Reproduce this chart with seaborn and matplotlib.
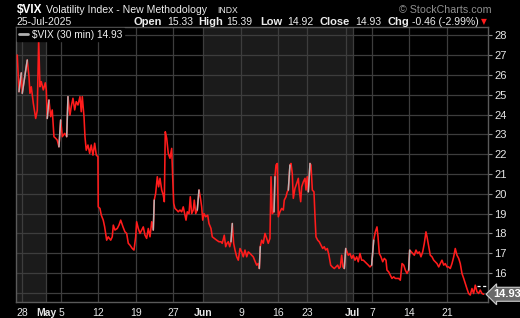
import matplotlib
matplotlib.use("Agg")
import matplotlib.pyplot as plt
import matplotlib.transforms as mtransforms
from matplotlib.lines import Line2D
import numpy as np
import pandas as pd
import seaborn as sns

# ---------------- data ----------------
# time in trading days since Mon 28-Apr-2025 open
t = [-0.63, -0.40, -0.09, 0.04, 0.71, 0.94, 1.07, 1.25, 1.52, 1.84, 2.05, 2.24, 2.41, 2.59, 2.86,
     3.13, 3.26, 3.39, 3.62, 3.85, 4.06, 4.29, 4.52, 4.73, 4.96, 5.19, 5.41, 5.73, 6.00, 6.17,
     6.44, 6.61, 6.84, 7.07, 7.28, 7.51, 7.78, 7.95, 8.09, 8.32, 8.45, 8.62, 8.85, 9.08, 9.29,
     9.52, 9.75, 9.97, 10.19, 10.23, 10.46, 10.64, 10.90, 11.09, 11.36, 11.57, 11.90, 12.11, 12.25,
     12.47, 12.78, 13.01, 13.24, 13.55, 13.81, 14.04, 14.26, 14.48, 14.79, 15.02, 15.25, 15.38,
     15.60, 15.83, 16.05, 16.27, 16.50, 16.72, 16.94, 17.17, 17.40, 17.61, 17.74, 17.93, 18.15,
     18.33, 18.51, 18.74, 18.95, 19.09, 19.22, 19.41, 19.62, 19.85, 20.08, 20.21, 20.35, 20.52,
     20.75, 20.96, 21.19, 21.42, 21.63, 21.86, 22.00, 22.17, 22.40, 22.57, 22.76, 22.97, 23.11,
     23.30, 23.51, 23.74, 23.91, 24.10, 24.24, 24.41, 24.64, 24.91, 25.08, 25.35, 25.52, 25.79,
     26.11, 26.42, 26.69, 26.86, 27.13, 27.32, 27.49, 27.67, 27.86, 28.03, 28.21, 28.39, 28.57,
     28.80, 29.01, 29.24, 29.47, 29.68, 29.91, 30.14, 30.35, 30.58, 30.81, 31.02, 31.25, 31.48,
     31.69, 31.83, 31.96, 32.15, 32.36, 32.59, 32.82, 33.03, 33.26, 33.40, 33.57, 33.80, 33.93,
     34.07, 34.24, 34.38, 34.60, 34.83, 35.05, 35.18, 35.41, 35.58, 35.72, 35.94, 36.08, 36.25,
     36.39, 36.61, 36.84, 37.06, 37.19, 37.38, 37.51, 37.73, 37.96, 38.09, 38.26, 38.40, 38.63,
     38.76, 38.94, 39.16, 39.30, 39.43, 39.66, 39.87, 40.10, 40.33, 40.54, 40.73, 40.95, 41.17,
     41.40, 41.62, 41.89, 42.11, 42.34, 42.52, 42.69, 42.88, 43.05, 43.23, 43.42, 43.59, 43.76,
     43.99, 44.22, 44.43, 44.66, 44.89, 45.10, 45.33, 45.56, 45.78, 46.00, 46.23, 46.45, 46.67,
     46.90, 47.17, 47.39, 47.61, 47.75, 47.92, 48.15, 48.38, 48.59, 48.82, 48.95, 49.18, 49.40,
     49.62, 49.85, 50.07, 50.29, 50.52, 50.74, 50.97, 51.20, 51.41, 51.64, 51.86, 52.00, 52.21,
     52.40, 52.62, 52.84, 53.07, 53.29, 53.51, 53.74, 53.96, 54.18, 54.32, 54.55, 54.76, 54.99,
     55.22, 55.43, 55.66, 55.89, 56.10, 56.33, 56.56, 56.77, 57.00, 57.23, 57.44, 57.67, 57.90,
     58.11, 58.34, 58.57, 58.78, 59.01, 59.24, 59.45, 59.67, 59.90, 60.12, 60.35, 60.57, 60.79,
     61.02, 61.25, 61.46, 61.69, 61.92]
vix = [27.0, 25.15, 26.1, 25.07, 26.75, 25.9, 25.07, 25.4, 24.57, 23.8, 24.2, 27.8, 25.4, 25.66, 25.24,
       25.6, 25.24, 23.8, 24.73, 23.89, 24.23, 22.88, 22.8, 22.71, 22.37, 23.72, 22.88, 23.05, 22.88, 24.9,
       23.97, 24.4, 24.82, 24.23, 24.65, 24.48, 24.9, 24.14, 24.9, 23.89, 22.88, 22.2, 22.46, 22.04, 22.46,
       21.95, 22.55, 21.95, 21.87, 19.34, 19.26, 18.92, 18.67, 18.33, 17.66, 17.83, 17.66, 17.83, 18.42,
       18.17, 18.25, 18.42, 18.67, 18.33, 18.08, 18.0, 17.5, 17.41, 17.24, 17.16, 17.83, 18.59,
       18.25, 18.0, 18.17, 18.33, 17.91, 17.75, 18.25, 17.83, 18.59, 18.17, 19.68, 20.02, 20.86,
       20.35, 20.78, 20.19, 19.93, 19.6, 23.13, 22.8, 22.04, 21.79, 22.29, 20.86, 19.52, 19.26,
       19.18, 19.09, 19.18, 19.09, 19.34, 18.92, 18.67, 19.09, 19.0, 19.85, 19.0, 19.18, 19.68,
       19.0, 19.18, 20.19, 19.85, 19.34, 18.67, 19.0, 18.84, 18.92, 18.5, 18.25, 17.83, 17.75,
       17.66, 17.58, 17.58, 17.5, 17.91, 17.33, 17.5, 17.58, 17.33, 17.58, 18.5, 17.5, 17.16,
       16.82, 16.65, 17.24, 17.07, 16.82, 17.16, 16.82, 17.07, 16.99, 16.9, 16.82, 16.6, 16.4,
       16.48, 16.23, 17.33, 17.66, 17.5, 18.0, 17.75, 17.5, 17.75, 20.86, 19.0, 19.09, 20.86,
       21.45, 21.53, 18.84, 19.09, 19.26, 19.18, 19.68, 19.85, 20.1, 20.19, 21.45, 21.53, 21.03,
       19.77, 20.27, 20.52, 20.78, 20.19, 19.6, 20.35, 20.6, 20.78, 20.19, 20.86, 20.1, 21.53,
       21.45, 20.19, 20.1, 18.84, 17.83, 17.66, 17.58, 17.41, 17.24, 17.33, 17.16, 17.24, 16.9,
       16.4, 16.31, 16.23, 16.31, 16.4, 16.23, 16.31, 16.9, 16.31, 16.23, 17.24, 17.07, 16.9,
       16.99, 16.74, 16.9, 16.65, 16.82, 16.57, 16.99, 16.65, 16.65, 16.57, 16.48, 16.4, 16.31,
       16.4, 17.66, 18.08, 18.33, 17.83, 16.99, 16.82, 16.57, 16.74, 16.65, 16.15, 16.06, 15.9,
       15.73, 15.81, 15.73, 15.73, 15.73, 15.64, 16.48, 16.4, 16.15, 15.98, 16.15, 17.16, 17.07,
       16.99, 16.9, 17.16, 16.99, 17.07, 16.82, 17.07, 17.5, 18.08, 17.83, 17.33, 16.9, 16.82,
       16.65, 16.57, 16.48, 16.31, 16.48, 16.65, 16.4, 16.48, 16.31, 16.31, 16.23, 16.48, 16.82,
       17.24, 16.9, 16.74, 16.48, 15.98, 15.73, 15.48, 15.22, 14.97, 14.89, 15.22, 14.97, 15.39,
       15.06, 14.97, 15.14, 14.97, 14.93]

tick_pos = [0.0, 3.26, 5.23, 10.19, 15.29, 20.25, 24.32, 29.37, 34.38, 38.26, 43.4, 44.35, 46.94, 51.9, 57.0]
tick_labels = ["28", "May", "5", "12", "19", "27", "Jun", "9", "16", "23", "", "Jul", "7", "14", "21"]
month_labels = ["May", "Jun", "Jul"]
shaded_months = [(-0.8, 3.26), (24.32, 44.35)]   # April and June
y_ticks = list(range(15, 29))

symbol = "$VIX"
name = "Volatility Index - New Methodology"
exchange = "INDX"
date_str = "25-Jul-2025"
open_v, high_v, low_v, close_v, chg_v, chg_pct = 15.33, 15.39, 14.92, 14.93, -0.46, -2.99
last_day_start = 61.0

# ---------------- style ----------------
sns.set_style("dark", {"axes.facecolor": "black", "figure.facecolor": "black"})
plt.rcParams["font.family"] = ["Liberation Sans", "DejaVu Sans"]

W, H = 520, 318
fig = plt.figure(figsize=(W / 100, H / 100), dpi=100, facecolor="black")
ax = fig.add_axes([16 / W, 16 / H, 472 / W, 274.7 / H])
ax.set_facecolor("black")

for a, b in shaded_months:
    ax.axvspan(a, b, color="#1b1b1b", zorder=0, lw=0)

ax.set_xlim(-0.8, 62.5)
ax.set_ylim(14.54, 28.40)
ax.set_xticks(tick_pos)
ax.set_xticklabels(tick_labels)
ax.set_yticks(y_ticks)
ax.set_yticklabels(["" if v == 15 else str(v) for v in y_ticks])
ax.grid(True, color="#3d3d3d", lw=0.9, zorder=1)
ax.set_axisbelow(True)
for s in ax.spines.values():
    s.set_color("#5a5a5a")
    s.set_linewidth(1.0)
    s.set_visible(True)

ax.yaxis.tick_right()
ax.tick_params(axis="y", which="both", direction="out", length=3, width=0.8,
               color="#8a8a8a", labelsize=8, labelcolor="#e6e6e6", pad=1.5,
               left=False, right=True)
ax.tick_params(axis="x", length=0, labelsize=7.5, labelcolor="#e6e6e6", pad=4)
for lab in ax.get_xticklabels():
    if lab.get_text() in month_labels:
        lab.set_fontweight("bold")

# ---------------- price line ----------------
df = pd.DataFrame({"t": t, "vix": vix})
sns.lineplot(data=df, x="t", y="vix", color="#ff1c1c", lw=1.15, estimator=None,
             ax=ax, zorder=3, legend=False)

# larger rising legs drawn in grey (StockCharts up-colour)
rows = []
vv = np.array(vix)
for i in range(len(vv) - 1):
    if 0.9 <= vv[i + 1] - vv[i] < 3.0:
        rows.append({"seg": i, "t": t[i], "vix": vix[i]})
        rows.append({"seg": i, "t": t[i + 1], "vix": vix[i + 1]})
up = pd.DataFrame(rows)
sns.lineplot(data=up, x="t", y="vix", units="seg", estimator=None, color="#b5b5b5",
             lw=1.1, ax=ax, zorder=4, legend=False)

# today's open dashed line
ax.hlines(open_v, last_day_start, 62.5, colors="white", linestyles=(0, (2.5, 2)), lw=0.9, zorder=5)
ax.set_xlabel("")
ax.set_ylabel("")

# last value badge
trans = mtransforms.blended_transform_factory(ax.transAxes, ax.transData)
ax.text(1.012, close_v, f"{close_v:.2f}", transform=trans, ha="left", va="center",
        fontsize=8, fontweight="bold", color="white", clip_on=False, zorder=10,
        bbox=dict(boxstyle="larrow,pad=0.18", fc="#6a6a6a", ec="#cfcfcf", lw=0.8))

# legend
h = Line2D([], [], color="#b0b0b0", lw=2)
leg = ax.legend([h], [rf"\{symbol} (30 min) {close_v:.2f}"], loc="upper left",
                bbox_to_anchor=(0.0, 1.0), borderaxespad=0.1, frameon=True,
                fontsize=7.3, handlelength=0.9, handletextpad=0.4, borderpad=0.15,
                labelcolor="#f0f0f0")
leg.get_frame().set_facecolor("black")
leg.get_frame().set_edgecolor("black")
leg.get_frame().set_alpha(1)
leg.get_frame().set_boxstyle("square", pad=0.0)

# ---------------- header text ----------------
def ftxt(x, y, s, **kw):
    fig.text(x / W, 1 - y / H, s, va="baseline", ha="left", **kw)

ftxt(17, 13, "\\" + symbol, fontsize=8.5, fontweight="bold", color="white")
ftxt(46, 13, name, fontsize=7.6, color="#ececec")
ftxt(217, 13, exchange, fontsize=6.2, color="#ececec")
ftxt(399, 13, "\u00a9 StockCharts.com", fontsize=7.7, color="#8f8f8f")

ftxt(16, 25, date_str, fontsize=7.5, color="#ececec")
pieces = [(134, "Open", True), (167, f"{open_v:.2f}", False),
          (198, "High", True), (226, f"{high_v:.2f}", False),
          (260, "Low", True), (287, f"{low_v:.2f}", False),
          (319, "Close", True), (355, f"{close_v:.2f}", False),
          (387, "Chg", True), (412, f"{chg_v:.2f} ({chg_pct:.2f}%)", False)]
for x, s, b in pieces:
    if b:
        ftxt(x, 25, s, fontsize=8, fontweight="bold", color="#ececec")
    else:
        ftxt(x, 25, s, fontsize=7.5, color="#ececec")
ftxt(481, 24, "\u25bc", fontsize=5.5, color="#ff1c1c", family=["DejaVu Sans"])

fig.savefig("out.png", dpi=100, facecolor="black")
